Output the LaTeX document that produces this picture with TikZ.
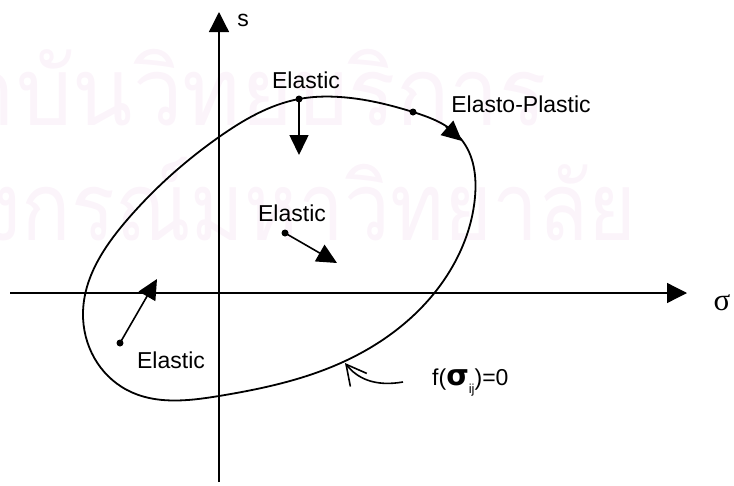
\documentclass[tikz,border=0pt]{standalone}
\usepackage{fontspec}
\setmainfont{Liberation Sans}
\newfontfamily\thaifont[Script=Thai]{Loma}
\newfontfamily\greekfont{Liberation Serif}
\newfontfamily\boldgreek{DejaVu Sans}
\usetikzlibrary{arrows.meta,hobby}
\definecolor{wm}{RGB}{251,244,250}
\tikzset{
  axis/.style={line width=1.3pt,-{Triangle[length=20pt,width=20pt]}},
  arr/.style={line width=1.6pt,-{Triangle[length=20pt,width=19pt]}},
  curve/.style={line width=1.8pt},
  pt/.style={circle,fill=black,inner sep=0pt,minimum size=7pt},
  lbl/.style={font=\fontsize{23}{27}\selectfont,inner sep=0pt},
  wmark/.style={font=\thaifont\fontsize{95}{110}\selectfont,text=wm,inner sep=0pt,anchor=base east}
}
\begin{document}
\begin{tikzpicture}[x=1pt,y=-1pt]
\useasboundingbox (0,0) rectangle (734,485);
% watermark
\node[wmark,xscale=0.93] (w1) at (547,125) {สถาบันวิทยบริการ};
\node[wmark,xscale=0.86] (w2) at (636,240) {จุฬาลงกรณ์มหาวิทยาลัย};
% axes
\coordinate (xa) at (10,293);
\coordinate (xb) at (687,293);
\coordinate (ya) at (219,482);
\coordinate (yb) at (219,12);
\draw[axis] (xa) -- (xb);
\draw[axis] (ya) -- (yb);
\node[lbl] (s) at (243,20) {s};
\node[inner sep=0pt,font=\greekfont\fontsize{31}{34}\selectfont] (sig) at (722,303) {σ};
% yield curve
\draw[curve,use Hobby shortcut,closed=true]
 (219,137) .. (299,99) .. (340,97) .. (413,112) .. (461,139) .. (475,197)
 .. (455,262) .. (343,362) .. (219,396) .. (127,390) .. (83,313) .. (127,220);
\coordinate (ca) at (446,127);
\coordinate (cb) at (462,141);
\draw[arr] (ca) -- (cb);
% points
\node[pt] (d1) at (299,99) {};
\node[pt] (d2) at (413,112) {};
\node[pt] (d3) at (285,233) {};
\node[pt] (d4) at (120,343) {};
\coordinate (t1) at (299,155);
\coordinate (t3) at (337,263);
\coordinate (t4) at (157,279);
\draw[arr] (d1.center) -- (t1);
\draw[arr] (d3.center) -- (t3);
\draw[arr] (d4.center) -- (t4);
% labels
\node[lbl] (e1) at (306,80) {Elastic};
\node[lbl] (e2) at (521,104) {Elasto-Plastic};
\node[lbl] (e3) at (292,213) {Elastic};
\node[lbl] (e4) at (171,360) {Elastic};
% yield function label
\node[lbl,anchor=west] (f) at (432,383) {f(\raisebox{0pt}{\boldgreek\bfseries\fontsize{29}{32}\selectfont σ}\raisebox{-8pt}{\fontsize{13}{15}\selectfont ij})=0};
\coordinate (fa) at (403,382);
\coordinate (fb) at (345,363);
\draw[line width=1.6pt,-{Straight Barb[length=20pt,width=21pt,line width=1.6pt]}] (fa) .. controls (374,387) and (357,378) .. (fb);
\end{tikzpicture}
\end{document}
